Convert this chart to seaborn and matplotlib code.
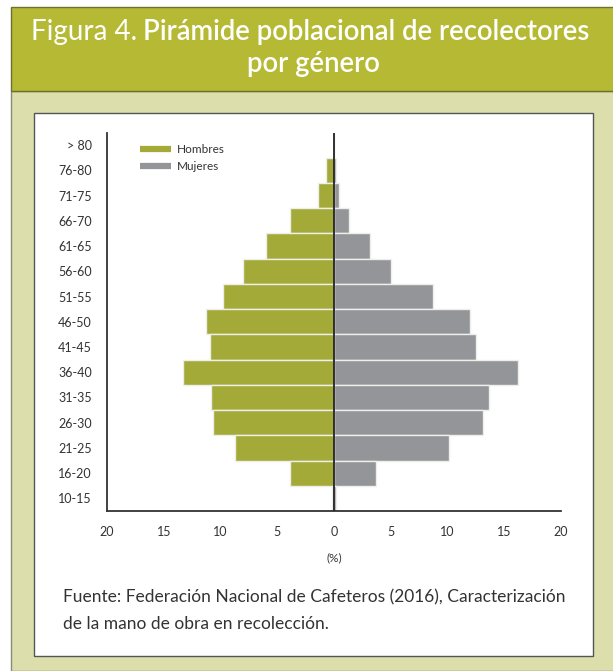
import pandas as pd
import numpy as np
import matplotlib
matplotlib.use('Agg')
import matplotlib.pyplot as plt
from matplotlib.patches import Rectangle
from matplotlib.lines import Line2D
import seaborn as sns

# Data (% of pickers by age group)
edades = ['> 80', '76-80', '71-75', '66-70', '61-65', '56-60', '51-55', '46-50',
          '41-45', '36-40', '31-35', '26-30', '21-25', '16-20', '10-15']
hombres = [0.0, 0.7, 1.4, 3.9, 6.0, 8.0, 9.8, 11.3, 10.9, 13.3, 10.8, 10.7, 8.7, 3.9, 0.2]
mujeres = [0.0, 0.2, 0.4, 1.35, 3.15, 5.0, 8.7, 12.0, 12.5, 16.2, 13.65, 13.1, 10.1, 3.7, 0.2]
xticks = [-20, -15, -10, -5, 0, 5, 10, 15, 20]

verde = '#a3aa38'
gris = '#939598'
banda = '#b5b933'
beige = '#dcdeab'

sns.set_theme(style='white')
plt.rcParams['font.family'] = ['Lato', 'DejaVu Sans']

df = pd.DataFrame({
    'edad': edades * 2,
    'valor': [-h for h in hombres] + mujeres,
    'sexo': ['Hombres'] * len(edades) + ['Mujeres'] * len(edades),
})

fig = plt.figure(figsize=(6.13, 6.71), dpi=100)
fig.patch.set_facecolor('white')

# Background boxes (frame, title band, white panel)
fig.patches.append(Rectangle((11 / 613, 0), 1, 1 - 91 / 671, transform=fig.transFigure,
                             facecolor=beige, edgecolor='#8a8a7a', lw=1, zorder=-3))
fig.patches.append(Rectangle((11 / 613, 1 - 91 / 671), 1, 84 / 671, transform=fig.transFigure,
                             facecolor=banda, edgecolor='#6f7030', lw=1, zorder=-3))
fig.patches.append(Rectangle((34 / 613, 1 - 656 / 671), 559 / 613, 543 / 671, transform=fig.transFigure,
                             facecolor='white', edgecolor='#555555', lw=1, zorder=-2))

ax = fig.add_axes([107 / 613, 1 - 511 / 671, 454 / 613, 378.5 / 671])
ax.set_zorder(2)
ax.patch.set_alpha(0)

sns.barplot(data=df, x='valor', y='edad', hue='sexo', order=edades, dodge=False,
            palette={'Hombres': verde, 'Mujeres': gris}, saturation=1, width=1.0, orient='h',
            edgecolor='#eeeeea', linewidth=1, legend=False, ax=ax)

ax.axvline(0, color='#222222', lw=1.3, zorder=5)
ax.set_xlim(-20, 20)
ax.set_ylim(len(edades) - 0.5, -0.5)
ax.set_xticks(xticks)
ax.set_xticklabels([str(abs(t)) for t in xticks])
ax.tick_params(axis='both', length=0, labelsize=9, colors='#333333')
ax.tick_params(axis='y', pad=11)
ax.tick_params(axis='x', pad=11)
ax.set_xlabel('(%)', fontsize=8.5, color='#333333', labelpad=10)
ax.set_ylabel('')
for s in ['top', 'right']:
    ax.spines[s].set_visible(False)
for s in ['left', 'bottom']:
    ax.spines[s].set_color('#333333')
    ax.spines[s].set_linewidth(1.3)

handles = [Line2D([0], [0], color=verde, lw=4.5, solid_capstyle='butt'),
           Line2D([0], [0], color=gris, lw=4.5, solid_capstyle='butt')]
ax.legend(handles, ['Hombres', 'Mujeres'], loc='upper left', bbox_to_anchor=(0.06, 0.985),
          frameon=False, fontsize=8.5, handlelength=2.6, handletextpad=0.5,
          labelspacing=0.5, borderpad=0, labelcolor='#333333')

# Title
fig.text(137 / 613, 1 - 32 / 671, 'Figura 4.', ha='right', va='center', color='white',
         fontsize=20, fontweight='normal')
fig.text(143 / 613, 1 - 32 / 671, 'Pirámide poblacional de recolectores', ha='left', va='center',
         color='white', fontsize=19.8, fontweight='semibold')
fig.text(313 / 613, 1 - 64 / 671, 'por género', ha='center', va='center', color='white',
         fontsize=19.8, fontweight='semibold')

# Source
fig.text(63 / 613, 1 - 597 / 671, 'Fuente: Federación Nacional de Cafeteros (2016), Caracterización',
         ha='left', va='center', color='#333333', fontsize=12.5)
fig.text(63 / 613, 1 - 624 / 671, 'de la mano de obra en recolección.',
         ha='left', va='center', color='#333333', fontsize=12.5)

fig.savefig('out.png', dpi=100)
